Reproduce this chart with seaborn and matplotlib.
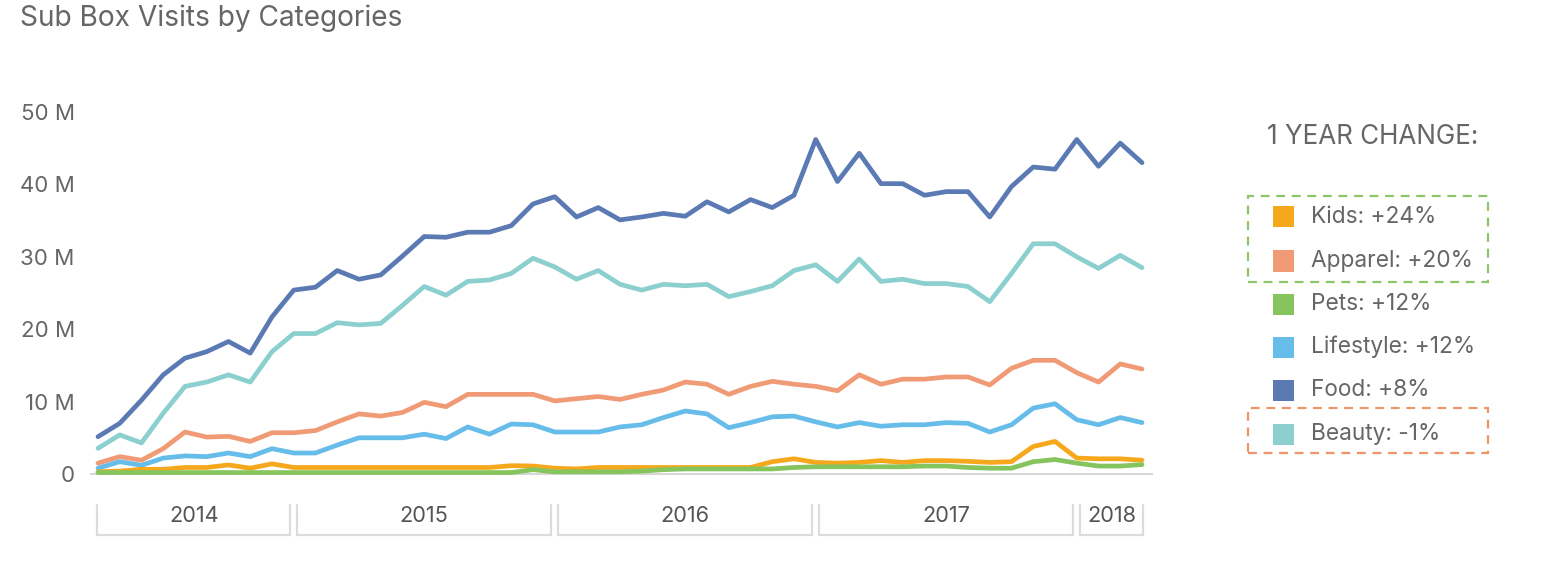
import matplotlib
matplotlib.use("Agg")
import matplotlib.pyplot as plt
import matplotlib.transforms as mtransforms
from matplotlib.patches import Rectangle
import seaborn as sns
import pandas as pd
import numpy as np

# ---------------- data ----------------
months = pd.date_range("2014-04-01", "2018-04-01", freq="MS").strftime("%Y-%m").tolist()

food = [5.15, 7.0, 10.2, 13.7, 16.0, 16.9, 18.3, 16.7, 21.7, 25.4, 25.8, 28.1, 26.9, 27.5, 30.1, 32.8,
        32.7, 33.4, 33.4, 34.3, 37.3, 38.3, 35.5, 36.8, 35.1, 35.5, 36.0, 35.6, 37.6, 36.2, 37.9, 36.8,
        38.5, 46.2, 40.4, 44.3, 40.1, 40.1, 38.5, 39.0, 39.0, 35.5, 39.7, 42.4, 42.1, 46.2, 42.5, 45.7, 43.0]
beauty = [3.55, 5.4, 4.3, 8.4, 12.1, 12.7, 13.7, 12.7, 16.9, 19.4, 19.4, 20.9, 20.6, 20.8, 23.3, 25.9,
          24.7, 26.6, 26.8, 27.7, 29.8, 28.6, 26.9, 28.1, 26.2, 25.4, 26.2, 26.0, 26.2, 24.5, 25.2, 26.0,
          28.1, 28.9, 26.6, 29.7, 26.6, 26.9, 26.3, 26.3, 25.9, 23.8, 27.7, 31.8, 31.8, 30.0, 28.4, 30.2, 28.5]
apparel = [1.5, 2.4, 1.9, 3.5, 5.8, 5.1, 5.2, 4.5, 5.7, 5.7, 6.0, 7.2, 8.3, 8.0, 8.5, 9.9,
           9.3, 11.0, 11.0, 11.0, 11.0, 10.1, 10.4, 10.7, 10.3, 11.0, 11.6, 12.7, 12.4, 11.0, 12.1, 12.8,
           12.4, 12.1, 11.5, 13.7, 12.4, 13.1, 13.1, 13.4, 13.4, 12.3, 14.6, 15.7, 15.7, 14.0, 12.7, 15.2, 14.5]
lifestyle = [0.8, 1.7, 1.2, 2.2, 2.5, 2.4, 2.9, 2.4, 3.5, 2.9, 2.9, 4.0, 5.0, 5.0, 5.0, 5.5,
             4.9, 6.5, 5.5, 6.9, 6.8, 5.8, 5.8, 5.8, 6.5, 6.8, 7.8, 8.7, 8.3, 6.4, 7.1, 7.9,
             8.0, 7.2, 6.5, 7.1, 6.6, 6.8, 6.8, 7.1, 7.0, 5.8, 6.8, 9.1, 9.7, 7.5, 6.8, 7.8, 7.1]
kids = [0.3, 0.4, 0.65, 0.65, 0.9, 0.9, 1.25, 0.8, 1.4, 0.9, 0.9, 0.9, 0.9, 0.9, 0.9, 0.9,
        0.9, 0.9, 0.9, 1.15, 1.1, 0.8, 0.7, 0.9, 0.9, 0.9, 0.9, 0.9, 0.9, 0.9, 0.9, 1.7,
        2.1, 1.6, 1.5, 1.6, 1.85, 1.6, 1.85, 1.85, 1.75, 1.6, 1.7, 3.8, 4.5, 2.2, 2.1, 2.1, 1.9]
pets = [0.2, 0.2, 0.2, 0.2, 0.2, 0.2, 0.2, 0.2, 0.2, 0.2, 0.2, 0.2, 0.2, 0.2, 0.2, 0.2,
        0.2, 0.2, 0.2, 0.2, 0.6, 0.3, 0.3, 0.3, 0.3, 0.4, 0.6, 0.7, 0.7, 0.7, 0.7, 0.7,
        0.9, 1.0, 1.0, 1.0, 1.0, 1.0, 1.1, 1.1, 0.9, 0.8, 0.8, 1.7, 2.0, 1.5, 1.1, 1.1, 1.3]

categories = ["Kids", "Apparel", "Pets", "Lifestyle", "Food", "Beauty"]
changes = ["+24%", "+20%", "+12%", "+12%", "+8%", "-1%"]
colors = ["#f5a81c", "#f09b75", "#86c45e", "#66bde9", "#5b7ab3", "#8ccfcf"]
series = {"Kids": kids, "Apparel": apparel, "Pets": pets,
          "Lifestyle": lifestyle, "Food": food, "Beauty": beauty}

years = ["2014", "2015", "2016", "2017", "2018"]
year_bounds = [0, 9, 21, 33, 45, 48]  # month-index boundaries of the year brackets

ytick_vals = [0, 10, 20, 30, 40, 50]
ytick_labels = ["0", "10 M", "20 M", "30 M", "40 M", "50 M"]

# --------------- build frame ---------------
rows = []
for cat in categories:
    for i, v in enumerate(series[cat]):
        rows.append({"idx": i, "month": months[i], "category": cat, "value": v})
df = pd.DataFrame(rows)

sns.set_theme(style="white")
FONT = ["Inter", "DejaVu Sans"]
plt.rcParams["font.family"] = FONT

W, H = 1546, 563
fig = plt.figure(figsize=(W / 100, H / 100), dpi=100)
renderer = fig.canvas.get_renderer()

def fx(px):
    return px / W

def fy(py):
    return 1 - py / H

def fit_size(sample, target_px, base=14.0):
    t = fig.text(0, 0, sample, fontsize=base)
    w = t.get_window_extent(renderer).width
    t.remove()
    return base * target_px / w

title_fs = fit_size("Sub Box Visits by Categories", 383)
tick_fs = fit_size("50 M", 54)
year_fs = fit_size("2014", 50)
leg_fs = fit_size("Apparel: +20%", 162)
head_fs = fit_size("YEAR CHANGE:", 194)

# axes placement (pixels)
ax_left, ax_right = 90, 1153
y0_px, y50_px = 474, 112
px_per_unit = (y0_px - y50_px) / 50.0
ytop = 52.5
ybot = -0.4
top_px = y0_px - ytop * px_per_unit
bot_px = y0_px - ybot * px_per_unit
ax = fig.add_axes([fx(ax_left), fy(bot_px), fx(ax_right - ax_left), (bot_px - top_px) / H])

palette = dict(zip(categories, colors))
draw_order = ["Beauty", "Food", "Apparel", "Lifestyle", "Kids", "Pets"]
sns.lineplot(data=df, x="idx", y="value", hue="category", hue_order=draw_order,
             palette=palette, linewidth=3.4, legend=False, ax=ax, zorder=3)

step = (1142 - 98) / 48.0
ax.set_xlim(-(98 - ax_left) / step, 48 + (ax_right - 1142) / step)
ax.set_ylim(ybot, ytop)

for s in ax.spines.values():
    s.set_visible(False)
ax.axhline(0, color="#d0d0d0", linewidth=1.2, zorder=1)

ax.set_yticks(ytick_vals)
ax.set_yticklabels(ytick_labels)
ax.tick_params(axis="y", length=0, pad=11, labelsize=tick_fs, labelcolor="#666666")
ax.set_xticks([])
ax.set_xlabel("")
ax.set_ylabel("")
ax.grid(False)

# year brackets under the axis
trans = mtransforms.blended_transform_factory(ax.transData, fig.transFigure)
gap = 0.15
yb_top, yb_bot = fy(505), fy(535)
for k, yr in enumerate(years):
    a = year_bounds[k] + (gap if k > 0 else -0.05)
    b = year_bounds[k + 1] - (gap if k < len(years) - 1 else -0.05)
    ax.plot([a, a, b, b], [yb_top, yb_bot, yb_bot, yb_top], transform=trans,
            color="#dcdcdc", linewidth=1.6, clip_on=False, solid_joinstyle="miter")
    ax.text((a + b) / 2, fy(516), yr, transform=trans, ha="center", va="center",
            fontsize=year_fs, color="#555555")

# title
fig.text(fx(20), fy(18), "Sub Box Visits by Categories", ha="left", va="center",
         fontsize=title_fs, color="#666666")

# legend
fig.text(fx(1267), fy(137), "1 YEAR CHANGE:", ha="left", va="center",
         fontsize=head_fs, color="#666666")
row_y = [217, 261, 304, 347, 390, 434]
for cat, ch, col, yy in zip(categories, changes, colors, row_y):
    fig.patches.append(Rectangle((fx(1273), fy(yy + 10.5)), fx(21), 21 / H,
                                 transform=fig.transFigure, facecolor=col,
                                 edgecolor="none"))
    fig.text(fx(1311), fy(yy), f"{cat}: {ch}", ha="left", va="center",
             fontsize=leg_fs, color="#666666")

for (y_top, y_bot, col) in [(196, 282, "#8cc56a"), (408, 453, "#f0956a")]:
    fig.patches.append(Rectangle((fx(1248), fy(y_bot)), fx(1488 - 1248), (y_bot - y_top) / H,
                                 transform=fig.transFigure, facecolor="none",
                                 edgecolor=col, linewidth=1.6, linestyle=(0, (4, 3))))

fig.savefig("out.png", dpi=100)
